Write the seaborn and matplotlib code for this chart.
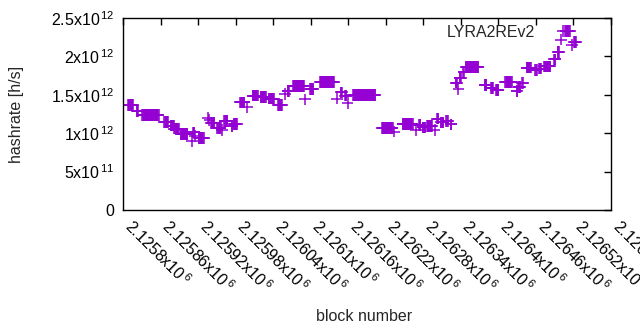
import numpy as np
import pandas as pd
import matplotlib
matplotlib.use("Agg")
import matplotlib.pyplot as plt
import seaborn as sns

# Runs of blocks sharing one hashrate: first block, last block, hashrate (x1e12 h/s)
run_start = [2125808, 2125822, 2125831, 2125866, 2125876, 2125882, 2125892, 2125910, 2125912,
             2125915, 2125921, 2125936, 2125938, 2125941, 2125951, 2125958, 2125962, 2125974,
             2125977, 2125987, 2125998, 2126007, 2126020, 2126033, 2126048, 2126059, 2126063,
             2126072, 2126091, 2126099, 2126115, 2126142, 2126148, 2126155, 2126159, 2126168,
             2126214, 2126233, 2126247, 2126268, 2126273, 2126279, 2126286, 2126298, 2126302,
             2126308, 2126317, 2126324, 2126332, 2126336, 2126338, 2126344, 2126348, 2126378,
             2126388, 2126396, 2126411, 2126429, 2126432, 2126438, 2126445, 2126459, 2126465,
             2126473, 2126489, 2126495, 2126500, 2126507, 2126518, 2126521]
run_end = [2125816, 2125824, 2125857, 2125872, 2125881, 2125889, 2125903, 2125910, 2125914,
           2125915, 2125929, 2125936, 2125938, 2125946, 2125956, 2125958, 2125967, 2125975,
           2125982, 2125994, 2125998, 2126015, 2126028, 2126041, 2126054, 2126059, 2126065,
           2126089, 2126091, 2126104, 2126137, 2126142, 2126150, 2126157, 2126159, 2126203,
           2126231, 2126233, 2126263, 2126268, 2126275, 2126283, 2126294, 2126298, 2126304,
           2126312, 2126319, 2126325, 2126334, 2126336, 2126340, 2126345, 2126368, 2126381,
           2126391, 2126400, 2126421, 2126430, 2126435, 2126439, 2126452, 2126461, 2126468,
           2126483, 2126491, 2126497, 2126500, 2126514, 2126518, 2126524]
run_rate = [1.37, 1.29, 1.235, 1.145, 1.10, 1.06, 0.99, 0.90, 1.01,
            0.96, 0.935, 1.20, 1.17, 1.13, 1.07, 1.04, 1.16, 1.09,
            1.12, 1.40, 1.34, 1.49, 1.475, 1.45, 1.37, 1.51, 1.55,
            1.615, 1.44, 1.575, 1.67, 1.45, 1.53, 1.49, 1.39, 1.497,
            1.07, 1.02, 1.12, 1.045, 1.11, 1.075, 1.095, 1.04, 1.19,
            1.14, 1.16, 1.115, 1.66, 1.57, 1.72, 1.80, 1.86, 1.625,
            1.59, 1.56, 1.665, 1.55, 1.60, 1.65, 1.855, 1.82, 1.84,
            1.87, 1.96, 2.06, 2.22, 2.33, 2.15, 2.19]

x_ticks = [2125800 + 60 * i for i in range(14)]
x_tick_labels = ["2.1258", "2.12586", "2.12592", "2.12598", "2.12604", "2.1261", "2.12616",
                 "2.12622", "2.12628", "2.12634", "2.1264", "2.12646", "2.12652", "2.12658"]
y_ticks = [0, 0.5e12, 1.0e12, 1.5e12, 2.0e12, 2.5e12]
y_tick_labels = ["0", "5x10$^{\\,11}$", "1x10$^{\\,12}$", "1.5x10$^{\\,12}$",
                 "2x10$^{\\,12}$", "2.5x10$^{\\,12}$"]

blocks, rates = [], []
for s, e, r in zip(run_start, run_end, run_rate):
    for b in range(s, e + 1):
        blocks.append(b)
        rates.append(r * 1e12)
df = pd.DataFrame({"block number": blocks, "hashrate": rates, "algo": "LYRA2REv2"})

sns.set_style("white")
plt.rcParams["font.family"] = ["Liberation Sans", "DejaVu Sans"]
plt.rcParams["mathtext.fontset"] = "custom"
plt.rcParams["mathtext.rm"] = "Liberation Sans"
plt.rcParams["mathtext.it"] = "Liberation Sans"
plt.rcParams["font.size"] = 11.5

fig = plt.figure(figsize=(6.4, 3.3), dpi=100)
ax = fig.add_axes([123 / 640, 1 - 210 / 330, 488 / 640, 192 / 330])

sns.scatterplot(data=df, x="block number", y="hashrate", hue="algo",
                palette=["#9400d3"], marker="+", s=70, linewidth=1.1, ax=ax)

ax.set_xlim(2125800, 2126580)
ax.set_ylim(0, 2.5e12)
ax.set_xticks(x_ticks)
ax.set_xticklabels([t + "x10$^{\\,6}$" for t in x_tick_labels], rotation=-45,
                   ha="left", va="baseline", rotation_mode="anchor")
ax.set_yticks(y_ticks)
ax.set_yticklabels(y_tick_labels)
ax.tick_params(direction="in", length=5, width=1, top=True, right=True,
               colors="black", labelsize=11.5)
ax.tick_params(axis="y", pad=6)
ax.tick_params(axis="x", pad=13)
for sp in ax.spines.values():
    sp.set_color("black")
    sp.set_linewidth(1)

ax.set_xlabel("block number", fontsize=11.5)
ax.set_ylabel("hashrate [h/s]", fontsize=11.5)
ax.xaxis.set_label_coords(0.494, -0.515)
ax.yaxis.set_label_coords(-0.203, 0.5)

leg = ax.legend(loc="upper right", bbox_to_anchor=(0.935, 0.965), frameon=False,
                markerfirst=False, handletextpad=0.8, borderaxespad=0.0,
                borderpad=0.0, fontsize=11.5)

fig.savefig("out.png", dpi=100)
